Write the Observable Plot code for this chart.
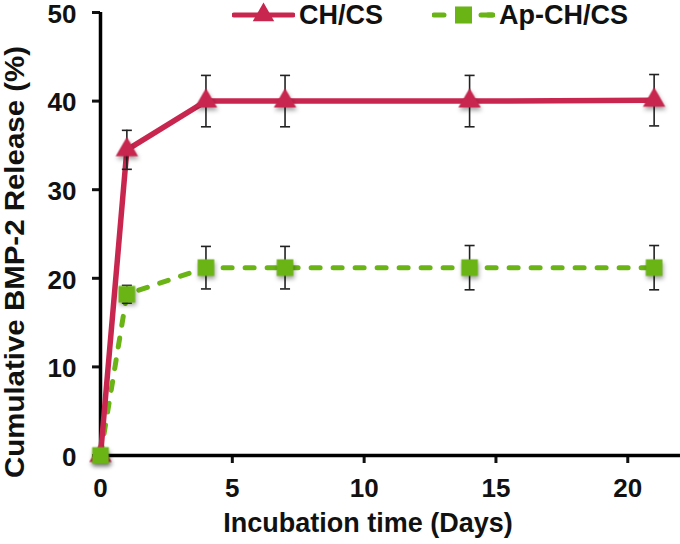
<!DOCTYPE html>
<html><head><meta charset="utf-8">
<script src="https://cdn.jsdelivr.net/npm/d3@7"></script>
<script src="https://cdn.jsdelivr.net/npm/@observablehq/plot@0.6"></script>
<style>
body{margin:0;background:#fff;font-family:"Liberation Sans",Arial,sans-serif;}
#wrap{position:relative;width:680px;height:544px;}
.legend{position:absolute;top:0;height:30px;display:flex;align-items:center;font-weight:bold;font-size:27px;color:#111;line-height:1;}
.legend svg{display:block;}
</style></head><body><div id="wrap"></div>
<script>
// ---- data ----
const days = [0, 1, 4, 7, 14, 21];
const chcs = [0, 34.5, 40.0, 40.0, 40.0, 40.1];
const chcsErr = [0, 2.2, 2.9, 2.9, 2.9, 2.9];
const apchcs = [0, 18.2, 21.2, 21.2, 21.2, 21.2];
const apchcsErr = [0, 1.0, 2.4, 2.4, 2.5, 2.5];
const seriesNames = ["CH/CS", "Ap-CH/CS"];
const seriesColors = ["#C9264F", "#6AB416"];
const xTicks = [0, 5, 10, 15, 20];
const yTicks = [0, 10, 20, 30, 40, 50];
const xLabel = "Incubation time (Days)";
const yLabel = "Cumulative BMP-2 Release (%)";

const red = days.map((d, i) => ({series: seriesNames[0], day: d, value: chcs[i], err: chcsErr[i]}));
const green = days.map((d, i) => ({series: seriesNames[1], day: d, value: apchcs[i], err: apchcsErr[i]}));
const errRows = red.concat(green).filter(d => d.err > 0);
const capHalf = 0.19;

const chart = Plot.plot({
  width: 680, height: 544,
  marginLeft: 100, marginRight: 0, marginTop: 12, marginBottom: 89,
  style: {fontFamily: '"Liberation Sans", Arial, sans-serif', color: "#111", background: "#fff", overflow: "visible"},
  x: {domain: [0, 22]},
  y: {domain: [0, 50]},
  marks: [
    Plot.axisX({ticks: xTicks, tickSize: 8, tickPadding: 15, strokeWidth: 3, fontSize: 26, fontWeight: "bold", label: null}),
    Plot.axisY({ticks: yTicks, tickSize: 8, tickPadding: 16, strokeWidth: 3, fontSize: 26, fontWeight: "bold", label: null}),
    Plot.ruleY([0], {stroke: "#000", strokeWidth: 3.5}),
    Plot.ruleX([0], {stroke: "#000", strokeWidth: 3.5}),
    Plot.line(green, {x: "day", y: "value", stroke: seriesColors[1], strokeWidth: 5, strokeDasharray: "9,13", strokeLinecap: "round"}),
    Plot.line(red, {x: "day", y: "value", stroke: seriesColors[0], strokeWidth: 5.5}),
    Plot.ruleX(errRows, {x: "day", y1: d => d.value - d.err, y2: d => d.value + d.err, stroke: "#222", strokeWidth: 1.6}),
    Plot.link(errRows, {x1: d => d.day - capHalf, x2: d => d.day + capHalf, y1: d => d.value + d.err, y2: d => d.value + d.err, stroke: "#222", strokeWidth: 1.6}),
    Plot.link(errRows, {x1: d => d.day - capHalf, x2: d => d.day + capHalf, y1: d => d.value - d.err, y2: d => d.value - d.err, stroke: "#222", strokeWidth: 1.6}),
    Plot.dot(red, {x: "day", y: "value", symbol: "triangle", r: 8.3, fill: seriesColors[0], stroke: "none"}),
    Plot.dot(green, {x: "day", y: "value", symbol: "square", r: 9.4, fill: seriesColors[1], stroke: "none"})
  ]
});

const svg = d3.select(chart);
svg.selectAll('g[aria-label="dot"]').style("filter", "drop-shadow(1px 3px 2px rgba(0,0,0,0.35))");
// nudge y tick labels slightly below their ticks, as in the reference
svg.selectAll('g[aria-label="y-axis tick label"]').each(function () {
  const g = d3.select(this);
  const t = g.attr("transform") || "";
  g.attr("transform", (t + " translate(0,2)").trim());
});

// axis titles
svg.append("text").text(xLabel)
  .attr("x", 368).attr("y", 532).attr("text-anchor", "middle")
  .attr("font-size", 27).attr("font-weight", "bold").attr("fill", "#111");
svg.append("text").text(yLabel)
  .attr("transform", "translate(24,262) rotate(-90)").attr("text-anchor", "middle")
  .attr("font-size", 27).attr("font-weight", "bold").attr("fill", "#111")
  .attr("textLength", 432).attr("lengthAdjust", "spacingAndGlyphs");

const wrap = document.getElementById("wrap");
wrap.appendChild(chart);

// legend overlay
function legendItem(left, name, color, dashed, symbol) {
  const div = document.createElement("div");
  div.className = "legend";
  div.style.left = left + "px";
  const w = 63, h = 30;
  const s = d3.create("svg").attr("width", w).attr("height", h).style("margin-right", "4px");
  s.append("line").attr("x1", 2).attr("x2", w - 2).attr("y1", 15).attr("y2", 15)
    .attr("stroke", color).attr("stroke-width", 5).attr("stroke-linecap", "round")
    .attr("stroke-dasharray", dashed ? "10,44" : null);
  if (dashed) {
    s.append("line").attr("x1", w - 14).attr("x2", w - 3).attr("y1", 15).attr("y2", 15)
      .attr("stroke", color).attr("stroke-width", 5).attr("stroke-linecap", "round");
  }
  s.append("path").attr("transform", `translate(${w / 2},15)`)
    .attr("d", d3.symbol(symbol, symbol === d3.symbolSquare ? 290 : 200)())
    .attr("fill", color);
  div.appendChild(s.node());
  const t = document.createElement("span");
  t.textContent = name;
  div.appendChild(t);
  wrap.appendChild(div);
}
legendItem(232, seriesNames[0], seriesColors[0], false, d3.symbolTriangle);
legendItem(432, seriesNames[1], seriesColors[1], true, d3.symbolSquare);
</script></body></html>
